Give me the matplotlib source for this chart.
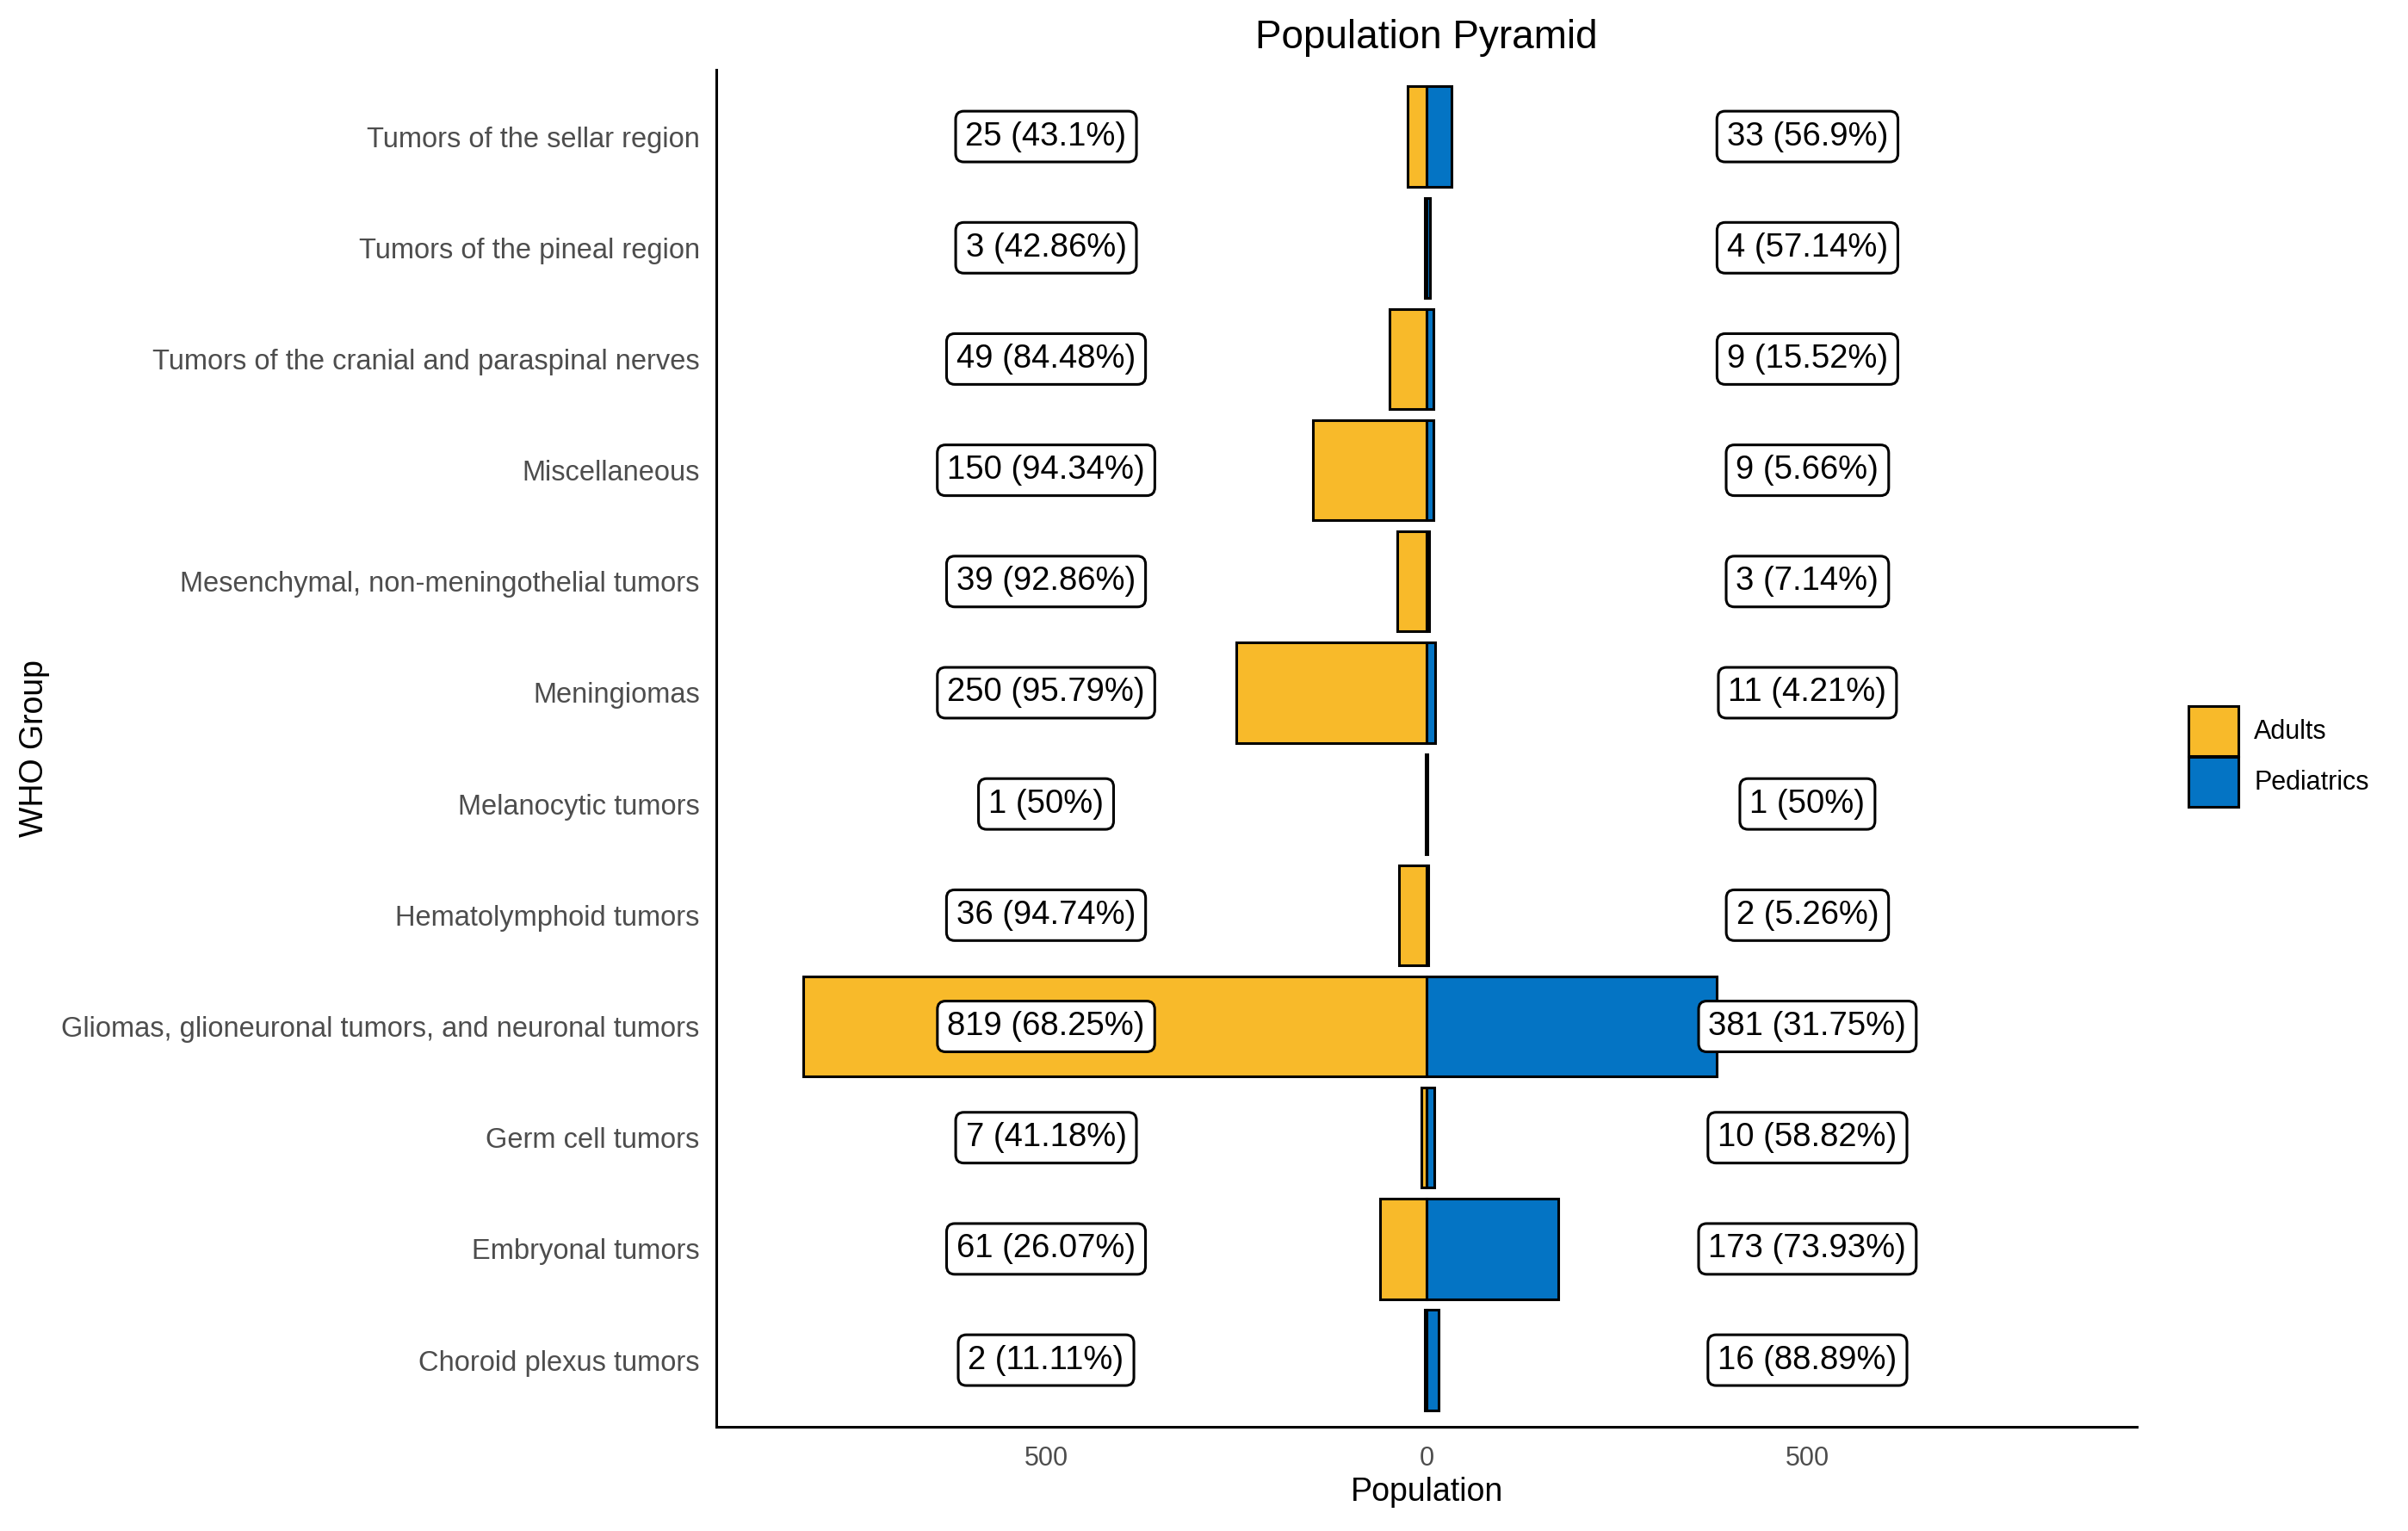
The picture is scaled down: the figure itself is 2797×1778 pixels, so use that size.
"""Population pyramid of WHO tumour groups, adults vs pediatrics."""

import numpy as np
import matplotlib
matplotlib.use('Agg')
import matplotlib.pyplot as plt
from matplotlib.patches import Patch

GROUPS = [
    'Choroid plexus tumors',
    'Embryonal tumors',
    'Germ cell tumors',
    'Gliomas, glioneuronal tumors, and neuronal tumors',
    'Hematolymphoid tumors',
    'Melanocytic tumors',
    'Meningiomas',
    'Mesenchymal, non-meningothelial tumors',
    'Miscellaneous',
    'Tumors of the cranial and paraspinal nerves',
    'Tumors of the pineal region',
    'Tumors of the sellar region',
]
ADULTS = [2, 61, 7, 819, 36, 1, 250, 39, 150, 49, 3, 25]
PEDIATRICS = [16, 173, 10, 381, 2, 1, 11, 3, 9, 9, 4, 33]
ADULTS_PCT = ['11.11', '26.07', '41.18', '68.25', '94.74', '50',
              '95.79', '92.86', '94.34', '84.48', '42.86', '43.1']
PEDIATRICS_PCT = ['88.89', '73.93', '58.82', '31.75', '5.26', '50',
                  '4.21', '7.14', '5.66', '15.52', '57.14', '56.9']
X_TICKS = [-500, 0, 500]
X_TICK_LABELS = ['500', '0', '500']

COLOR_ADULTS = '#F8BA2A'
COLOR_PEDS = '#0474C4'
SANS = ['Liberation Sans', 'DejaVu Sans']


def main():
    fig = plt.figure(figsize=(27.97, 17.78), dpi=100)
    ax = fig.add_axes([0.2975, 0.068, 0.8875 - 0.2975, 0.9544 - 0.068])

    y = np.arange(len(GROUPS))
    adults = np.array(ADULTS)
    peds = np.array(PEDIATRICS)

    ax.barh(y, -adults, height=0.9, color=COLOR_ADULTS,
            edgecolor='black', linewidth=2.2, zorder=2)
    ax.barh(y, peds, height=0.9, color=COLOR_PEDS,
            edgecolor='black', linewidth=2.2, zorder=2)

    box = dict(boxstyle='round,pad=0.3,rounding_size=0.25',
               facecolor='white', edgecolor='black', linewidth=2.2)
    for i in range(len(GROUPS)):
        ax.text(-500, y[i], f'{ADULTS[i]} ({ADULTS_PCT[i]}%)',
                ha='center', va='center', fontsize=27.5, family=SANS,
                bbox=box, zorder=3)
        ax.text(500, y[i], f'{PEDIATRICS[i]} ({PEDIATRICS_PCT[i]}%)',
                ha='center', va='center', fontsize=27.5, family=SANS,
                bbox=box, zorder=3)

    ax.set_xlim(-933, 933)
    ax.set_ylim(-0.6, len(GROUPS) - 0.4)
    ax.set_yticks(y)
    ax.set_yticklabels(GROUPS, family=SANS, fontsize=23.5, color='#4D4D4D')
    ax.set_xticks(X_TICKS)
    ax.set_xticklabels(X_TICK_LABELS, family=SANS, fontsize=22,
                       color='#4D4D4D')
    ax.tick_params(axis='y', length=0, pad=14)
    ax.tick_params(axis='x', length=0, pad=16)

    for side in ('top', 'right'):
        ax.spines[side].set_visible(False)
    for side in ('left', 'bottom'):
        ax.spines[side].set_linewidth(2.2)

    ax.set_xlabel('Population', family=SANS, fontsize=27, labelpad=4)
    ax.set_ylabel('WHO Group', family=SANS, fontsize=27, labelpad=10)
    ax.set_title('Population Pyramid', family=SANS, fontsize=33, pad=18)

    handles = [
        Patch(facecolor=COLOR_ADULTS, edgecolor='black', linewidth=2.2,
              label='Adults'),
        Patch(facecolor=COLOR_PEDS, edgecolor='black', linewidth=2.2,
              label='Pediatrics'),
    ]
    fig.legend(handles=handles, loc='center left',
               bbox_to_anchor=(0.899, 0.506), frameon=False,
               prop={'family': SANS, 'size': 22},
               handlelength=1.9, handleheight=2.56,
               handletextpad=0.6, labelspacing=0.02)

    fig.savefig('out.png', dpi=100)


if __name__ == '__main__':
    main()
